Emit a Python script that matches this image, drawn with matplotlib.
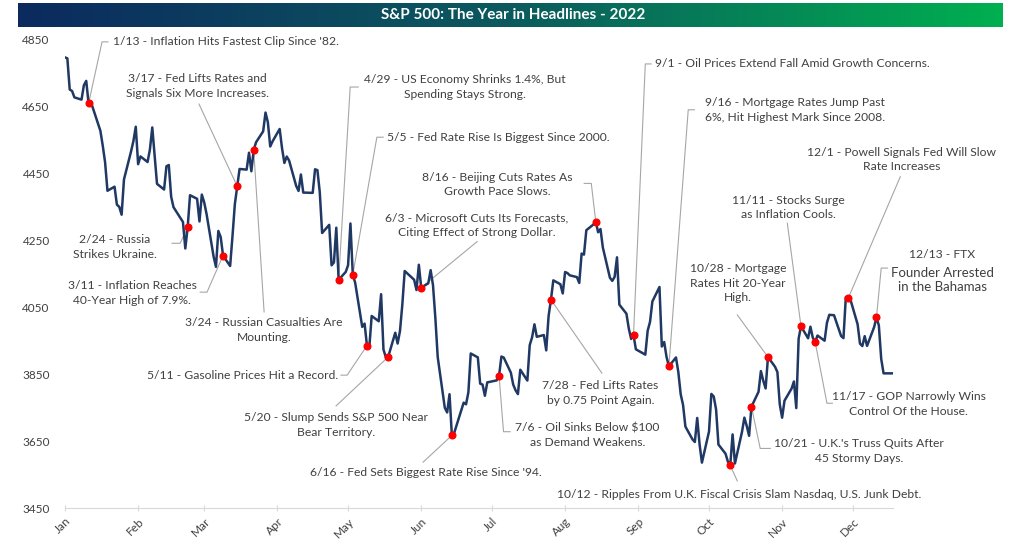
import datetime as dt

import matplotlib
matplotlib.use('Agg')
import matplotlib.pyplot as plt
import matplotlib.dates as mdates
import numpy as np

plt.rcParams['font.family'] = ['Lato', 'DejaVu Sans']

# S&P 500 daily closes, 2022 (month -> trading days / closes)
days = {
    1: [3, 4, 5, 6, 7, 10, 11, 12, 13, 14, 18, 19, 20, 21, 24, 25, 26, 27, 28, 31],
    2: [1, 2, 3, 4, 7, 8, 9, 10, 11, 14, 15, 16, 17, 18, 22, 23, 24, 25, 28],
    3: [1, 2, 3, 4, 7, 8, 9, 10, 11, 14, 15, 16, 17, 18, 21, 22, 23, 24, 25, 28,
        29, 30, 31],
    4: [1, 4, 5, 6, 7, 8, 11, 12, 13, 14, 18, 19, 20, 21, 22, 25, 26, 27, 28, 29],
    5: [2, 3, 4, 5, 6, 9, 10, 11, 12, 13, 16, 17, 18, 19, 20, 23, 24, 25, 26, 27,
        31],
    6: [1, 2, 3, 6, 7, 8, 9, 10, 13, 14, 15, 16, 17, 21, 22, 23, 24, 27, 28, 29,
        30],
    7: [1, 5, 6, 7, 8, 11, 12, 13, 14, 15, 18, 19, 20, 21, 22, 25, 26, 27, 28, 29],
    8: [1, 2, 3, 4, 5, 8, 9, 10, 11, 12, 15, 16, 17, 18, 19, 22, 23, 24, 25, 26,
        29, 30, 31],
    9: [1, 2, 6, 7, 8, 9, 12, 13, 14, 15, 16, 19, 20, 21, 22, 23, 26, 27, 28, 29,
        30],
    10: [3, 4, 5, 6, 7, 10, 11, 12, 13, 14, 17, 18, 19, 20, 21, 24, 25, 26, 27, 28,
         31],
    11: [1, 2, 3, 4, 7, 8, 9, 10, 11, 14, 15, 16, 17, 18, 21, 22, 23, 25, 28, 29,
         30],
    12: [1, 2, 5, 6, 7, 8, 9, 12, 13, 14, 15, 16, 19, 20],
}
closes = {
    1: [4796.56, 4793.54, 4700.58, 4696.05, 4677.03, 4670.29, 4713.07, 4726.35,
        4659.03, 4662.85, 4577.11, 4532.76, 4482.73, 4397.94, 4410.13, 4356.45,
        4349.93, 4326.51, 4431.85, 4515.55],
    2: [4546.54, 4589.38, 4477.44, 4500.53, 4483.87, 4521.54, 4587.18, 4504.08,
        4418.64, 4401.67, 4471.07, 4475.01, 4380.26, 4348.87, 4304.76, 4225.50,
        4288.70, 4384.65, 4373.94],
    3: [4306.26, 4386.54, 4363.49, 4328.87, 4201.09, 4170.70, 4277.88, 4259.52,
        4204.31, 4173.11, 4262.45, 4357.86, 4411.67, 4463.12, 4461.18, 4511.61,
        4456.24, 4520.16, 4543.06, 4575.52, 4631.60, 4602.45, 4530.41],
    4: [4545.86, 4582.64, 4525.12, 4481.15, 4500.21, 4488.28, 4412.53, 4397.45,
        4446.59, 4392.59, 4391.69, 4462.21, 4459.45, 4393.66, 4271.78, 4296.12,
        4175.20, 4183.96, 4287.50, 4131.93],
    5: [4155.38, 4175.48, 4300.17, 4146.87, 4123.34, 3991.24, 4001.05, 3935.18,
        3930.08, 4023.89, 4008.01, 4088.85, 3923.68, 3900.79, 3901.36, 3973.75,
        3941.48, 3978.73, 4057.84, 4158.24, 4132.15],
    6: [4101.23, 4176.82, 4108.54, 4121.43, 4160.68, 4115.77, 4017.82, 3900.86,
        3749.63, 3735.48, 3789.99, 3666.77, 3674.84, 3764.79, 3759.89, 3795.73,
        3911.74, 3900.11, 3821.55, 3818.83, 3785.38],
    7: [3825.33, 3831.39, 3845.08, 3902.62, 3899.38, 3854.43, 3818.80, 3801.78,
        3790.38, 3863.16, 3830.85, 3936.69, 3959.90, 3998.95, 3961.63, 3966.84,
        3921.05, 4023.61, 4072.43, 4130.29],
    8: [4118.63, 4091.19, 4155.17, 4151.94, 4145.19, 4140.06, 4122.47, 4210.24,
        4207.27, 4280.15, 4297.14, 4305.20, 4274.04, 4283.74, 4228.48, 4137.99,
        4128.73, 4140.77, 4199.12, 4057.66, 4030.61, 3986.16, 3955.00],
    9: [3966.85, 3924.26, 3908.19, 3979.87, 4006.18, 4067.36, 4110.41, 3932.69,
        3946.01, 3901.35, 3873.33, 3899.89, 3855.93, 3789.93, 3757.99, 3693.23,
        3655.04, 3647.29, 3719.04, 3640.47, 3585.62],
    10: [3678.43, 3790.93, 3783.28, 3744.52, 3639.66, 3612.39, 3588.84, 3577.03,
         3669.91, 3583.07, 3677.95, 3719.98, 3695.16, 3665.78, 3752.75, 3797.34,
         3859.11, 3830.60, 3807.30, 3901.06, 3871.98],
    11: [3856.10, 3759.69, 3719.89, 3770.55, 3806.80, 3828.11, 3748.57, 3956.37,
         3992.93, 3957.25, 3991.73, 3958.79, 3946.56, 3965.34, 3949.94, 4003.58,
         4027.26, 4026.12, 3963.94, 3957.63, 4080.11],
    12: [4076.57, 4071.70, 3998.84, 3941.26, 3933.92, 3963.51, 3934.38, 3990.56,
         4019.65, 3995.32, 3895.75, 3852.36, 3852.36, 3852.36],
}

# headlines (date, text)
headlines = [
    ('1/13', "1/13 - Inflation Hits Fastest Clip Since '82."),
    ('2/24', '2/24 - Russia\nStrikes Ukraine.'),
    ('3/11', '3/11 - Inflation Reaches\n40-Year High of 7.9%.'),
    ('3/17', '3/17 - Fed Lifts Rates and\nSignals Six More Increases.'),
    ('3/24', '3/24 - Russian Casualties Are\nMounting.'),
    ('4/29', '4/29 - US Economy Shrinks 1.4%, But\nSpending Stays Strong.'),
    ('5/5', '5/5 - Fed Rate Rise Is Biggest Since 2000.'),
    ('5/11', '5/11 - Gasoline Prices Hit a Record.'),
    ('5/20', '5/20 - Slump Sends S&P 500 Near\nBear Territory.'),
    ('6/3', '6/3 - Microsoft Cuts Its Forecasts,\nCiting Effect of Strong Dollar.'),
    ('6/16', "6/16 - Fed Sets Biggest Rate Rise Since '94."),
    ('7/6', '7/6 - Oil Sinks Below $100\nas Demand Weakens.'),
    ('7/28', '7/28 - Fed Lifts Rates\nby 0.75 Point Again.'),
    ('8/16', '8/16 - Beijing Cuts Rates As\nGrowth Pace Slows.'),
    ('9/1', '9/1 - Oil Prices Extend Fall Amid Growth Concerns.'),
    ('9/16', '9/16 - Mortgage Rates Jump Past\n6%, Hit Highest Mark Since 2008.'),
    ('10/12', '10/12 - Ripples From U.K. Fiscal Crisis Slam Nasdaq, U.S. Junk Debt.'),
    ('10/21', "10/21 - U.K.'s Truss Quits After\n45 Stormy Days."),
    ('10/28', '10/28 - Mortgage\nRates Hit 20-Year\nHigh.'),
    ('11/11', '11/11 - Stocks Surge\nas Inflation Cools.'),
    ('11/17', '11/17 - GOP Narrowly Wins\nControl Of the House.'),
    ('12/1', '12/1 - Powell Signals Fed Will Slow\nRate Increases'),
    ('12/13', '12/13 - FTX'),
]
ftx_extra = 'Founder Arrested\nin the Bahamas'

month_labels = ['Jan', 'Feb', 'Mar', 'Apr', 'May', 'Jun', 'Jul', 'Aug', 'Sep',
                'Oct', 'Nov', 'Dec']

START = dt.datetime(2022, 1, 3)

# label placement: text anchor (days after Jan 3, level), alignment, leader elbows
layout = {
    '1/13': ((20.4, 4844), 'left', [(15.7, 4843), (18.2, 4843)]),
    '2/24': ((21.2, 4230), 'center', [(48.8, 4241), (45.4, 4241)]),
    '3/11': ((28.4, 4092), 'center', [(60.2, 4095), (57.3, 4095)]),
    '3/17': ((56.0, 4711), 'center', [(56.8, 4657)]),
    '3/24': ((84.4, 3982), 'center', [(84.4, 4036)]),
    '4/29': ((169.6, 4708), 'center', [(120.9, 4708), (124.3, 4708)]),
    '5/5': ((136.6, 4558), 'left', [(132.2, 4558), (134.9, 4558)]),
    '5/11': ((115.8, 3845), 'right', [(119.6, 3847), (117.0, 3847)]),
    '5/20': ((114.9, 3698), 'center', [(114.9, 3755)]),
    '6/3': ((174.7, 4295), 'center', [(174.7, 4246)]),
    '6/16': ((103.9, 3556), 'left', [(151.8, 3587)]),
    '7/6': ((221.4, 3668), 'center', [(185.9, 3678), (188.7, 3678)]),
    '7/28': ((226.9, 3794), 'center', [(227.6, 3853)]),
    '8/16': ((183.2, 4417), 'center', [(223.1, 4420), (220.1, 4420)]),
    '9/1': ((250.2, 4777), 'left', [(246.0, 4777), (248.5, 4777)]),
    '9/16': ((271.4, 4640), 'left', [(264.2, 4640), (266.8, 4640)]),
    '10/12': ((208.5, 3489), 'left', [(285.0, 3531)]),
    '10/21': ((336.5, 3620), 'center', [(294.7, 3628), (299.0, 3628)]),
    '10/28': ((285.4, 4122), 'center', [(285.0, 4027)]),
    '11/11': ((306.6, 4348), 'center', [(306.2, 4301)]),
    '11/17': ((357.7, 3761), 'center', [(323.0, 3763), (325.3, 3763)]),
    '12/1': ((354.8, 4492), 'center', [(354.1, 4440)]),
    '12/13': ((371.9, 4209), 'center', [(346.0, 4167), (348.6, 4167)]),
}


def offset(n):
    return mdates.date2num(START + dt.timedelta(days=n))


dates = []
values = []
for month in days:
    for d, v in zip(days[month], closes[month]):
        dates.append(dt.datetime(2022, month, d))
        values.append(v)
lookup = {(x.month, x.day): v for x, v in zip(dates, values)}

fig = plt.figure(figsize=(10.24, 5.46), dpi=100)

# title banner with navy -> green gradient
ax_t = fig.add_axes([18 / 1024, 1 - 27 / 546, 985 / 1024, 24 / 546])
grad = np.linspace(0, 1, 256).reshape(1, -1)
cmap = matplotlib.colors.LinearSegmentedColormap.from_list(
    'banner', ['#0b2a5e', '#0b5a5e', '#00b050'])
ax_t.imshow(grad, aspect='auto', cmap=cmap, extent=[0, 1, 0, 1])
ax_t.set_axis_off()
ax_t.text(0.503, 0.5, 'S&P 500: The Year in Headlines - 2022', color='white',
          fontsize=11, fontweight='bold', ha='center', va='center',
          transform=ax_t.transAxes)

ax = fig.add_axes([65 / 1024, 1 - 508 / 546, 828 / 1024, 468.5 / 546])
ax.plot(dates, values, color='#1f3864', lw=1.8, zorder=3)

grey_txt = '#404040'
lead_col = '#a6a6a6'
for key, text in headlines:
    m, d = [int(p) for p in key.split('/')]
    when = dt.datetime(2022, m, d)
    val = lookup[(m, d)]
    ax.plot([when], [val], 'o', color='red', ms=4.8, zorder=4)
    (tx, ty), ha, elbows = layout[key]
    xs = [mdates.date2num(when)] + [offset(e[0]) for e in elbows]
    ys = [val] + [e[1] for e in elbows]
    ax.plot(xs, ys, color=lead_col, lw=0.8, zorder=2, clip_on=False)
    ax.text(offset(tx), ty, text, ha=ha, va='center', multialignment='center',
            fontsize=8.7, color=grey_txt, linespacing=1.4, clip_on=False)

(tx, ty), ha, _ = layout['12/13']
ax.text(offset(tx), 4131, ftx_extra, ha='center', va='center', fontsize=9.5,
        color=grey_txt, linespacing=1.2, clip_on=False)

ax.set_ylim(3450, 4850)
ax.set_yticks(np.arange(3450, 4851, 200))
ax.set_xlim(offset(0), offset(351))
ax.set_xticks([dt.datetime(2022, m, 3) for m in range(1, 13)])
ax.set_xticklabels(month_labels, rotation=45, ha='right', rotation_mode='anchor')
for side in ['top', 'right', 'left']:
    ax.spines[side].set_visible(False)
ax.spines['bottom'].set_color('#d9d9d9')
ax.tick_params(axis='x', colors='#d9d9d9', labelcolor=grey_txt, direction='inout',
               length=5, labelsize=8.5, pad=3)
ax.tick_params(axis='y', length=0, labelcolor=grey_txt, labelsize=8.5, pad=11)

fig.savefig('out.png', dpi=100)
